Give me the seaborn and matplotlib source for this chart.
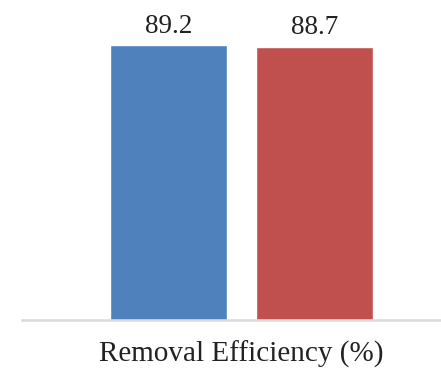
import matplotlib
matplotlib.use("Agg")
import matplotlib.pyplot as plt
import seaborn as sns
import pandas as pd

# Data
groups = ["Removal Efficiency (%)", "Removal Efficiency (%)"]
series = ["Method A", "Method B"]
values = [89.2, 88.7]
colors = ["#4F81BD", "#C0504D"]

df = pd.DataFrame({"group": groups, "series": series, "value": values})

sns.set_theme(style="white")
plt.rcParams["font.family"] = ["Liberation Serif", "DejaVu Serif"]

fig = plt.figure(figsize=(4.41, 3.83), dpi=100)
ax = fig.add_axes([22 / 441, 63 / 383, 419 / 441, 308 / 383])

sns.barplot(data=df, x="group", y="value", hue="series", palette=colors,
            gap=0.2, width=0.8, saturation=1, legend=False, ax=ax)

ax.set_ylim(0, 100)
ax.set_xlim(-0.601, 0.547)

for container in ax.containers:
    for bar, val in zip(container, container.datavalues):
        ax.annotate(f"{val:.1f}", (bar.get_x() + bar.get_width() / 2, bar.get_height()),
                    xytext=(0, 9), textcoords="offset points",
                    ha="center", va="baseline", fontsize=19.5, color="#222222")

sns.despine(ax=ax, left=True)
ax.spines["bottom"].set_color("#d9d9d9")
ax.spines["bottom"].set_linewidth(1.8)
ax.set_yticks([])
ax.set_xlabel("")
ax.set_ylabel("")
ax.tick_params(axis="x", length=0, pad=15, labelsize=21, labelcolor="#222222")

fig.savefig("out.png", dpi=100)
